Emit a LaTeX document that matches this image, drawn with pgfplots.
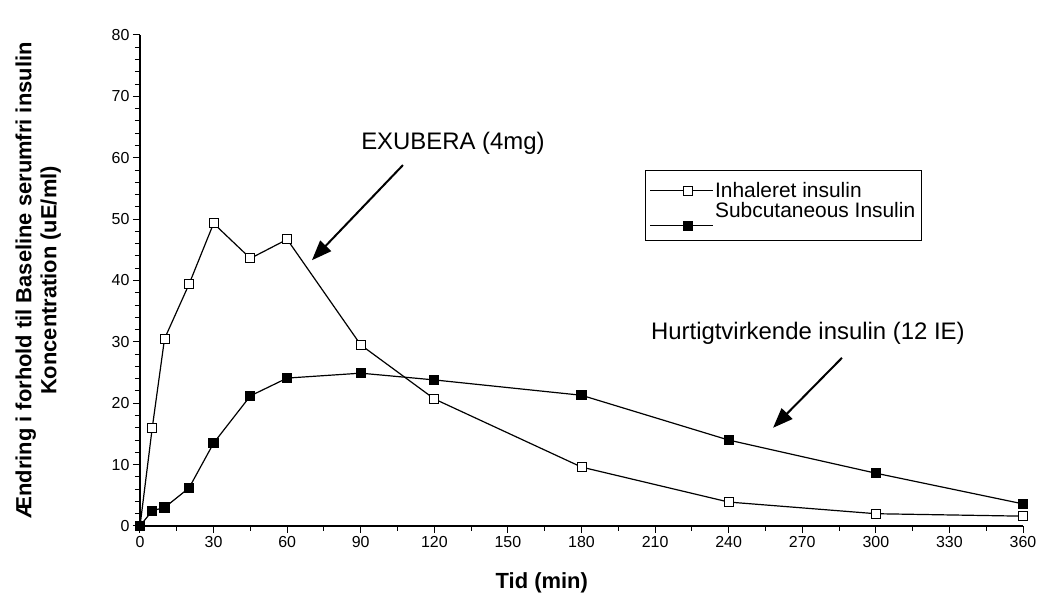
\documentclass[border=0pt]{standalone}
\usepackage{fontspec}
\setmainfont{Liberation Sans}
\usepackage{pgfplots}
\pgfplotsset{compat=1.18}
\usetikzlibrary{arrows.meta}

\pgfplotstableread{
t y
0 0
5 16.0
10 30.5
20 39.4
30 49.3
45 43.6
60 46.7
90 29.5
120 20.7
180 9.6
240 3.9
300 2.0
360 1.6
}\inhaled

\pgfplotstableread{
t y
0 0
5 2.5
10 3.0
20 6.2
30 13.5
45 21.2
60 24.1
90 24.9
120 23.8
180 21.3
240 14.0
300 8.6
360 3.6
}\subcut

\begin{document}
\begin{tikzpicture}
\begin{axis}[
  name=ax,
  scale only axis,
  width=883bp, height=491bp,
  xmin=0, xmax=360, ymin=0, ymax=80,
  axis lines=left,
  axis line style={-, line width=1.2bp},
  xtick={0,30,...,360}, ytick={0,10,...,80},
  minor x tick num=1, minor y tick num=4,
  tick align=outside,
  major tick length=7bp, minor tick length=5bp,
  every tick/.style={line width=1bp, black},
  ticklabel style={font=\fontsize{16}{19}\selectfont},
  /pgf/number format/assume math mode=true,
  clip=false,
  xlabel={\bfseries Tid (min)},
  xlabel style={font=\fontsize{22}{26}\selectfont, at={(ticklabel cs:0.455)}, anchor=north},
  xlabel shift=18bp,
  ylabel={\bfseries Ændring i forhold til Baseline serumfri insulin\\\bfseries Koncentration (uE/ml)},
  ylabel style={font=\fontsize{22}{25}\selectfont, align=center},
  ylabel shift=44bp,
  legend style={at={(rel axis cs:0.572,0.725)}, anchor=north west, draw=black, line width=1bp,
    font=\fontsize{21}{25}\selectfont, inner xsep=4bp, inner ysep=10bp, row sep=20bp},
  legend cell align=left,
  legend image code/.code={\path (0cm,0cm) -- (2.2cm,0cm);\draw[mark repeat=2,mark phase=2] plot coordinates {(0.75cm,0cm) (1.33cm,0cm) (1.91cm,0cm)};},
]
\addplot[black, line width=1.2bp, mark=square*, mark options={fill=white, line width=1bp}, mark size=4.5bp] table[x=t,y=y] {\inhaled};
\addlegendentry{Inhaleret insulin}
\addplot[black, line width=1.2bp, mark=square*, mark options={fill=black}, mark size=4.5bp] table[x=t,y=y] {\subcut};
\addlegendentry{\raisebox{7bp}[0pt][0pt]{Subcutaneous Insulin}}

\node[font=\fontsize{24}{28}\selectfont] at (axis cs:127.6,62.4) {EXUBERA (4mg)};
\draw[line width=2bp, -{Triangle[length=20bp,width=15bp]}] (axis cs:107.2,58.8) -- (axis cs:70.1,43.3);
\node[font=\fontsize{24}{28}\selectfont] at (axis cs:272.3,31.4) {Hurtigtvirkende insulin (12 IE)};
\draw[line width=2bp, -{Triangle[length=20bp,width=15bp]}] (axis cs:286.2,27.4) -- (axis cs:258.1,16.0);
\end{axis}
\pgfresetboundingbox
\path ([shift={(-140bp,-75bp)}]ax.south west) rectangle ([shift={(15bp,35bp)}]ax.north east);
\end{tikzpicture}
\end{document}
